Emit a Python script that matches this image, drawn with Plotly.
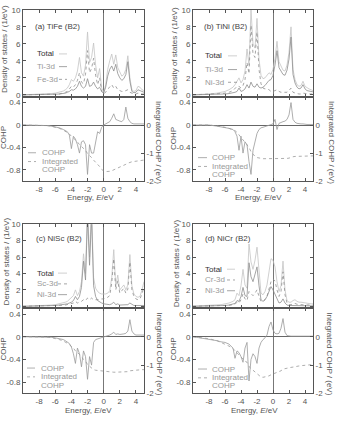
import plotly.graph_objects as go

W, H = 339, 421
def px(x): return x / W
def py(y): return 1 - y / H

# Energy grid (eV)
E = [-10, -9, -8, -7, -6.5, -6, -5.5, -5,
     -4.75, -4.5, -4.25, -4, -3.75, -3.5, -3.25, -3,
     -2.75, -2.5, -2.25, -2, -1.75, -1.5, -1.25, -1,
     -0.75, -0.5, -0.25, 0, 0.25, 0.5, 0.75, 1,
     1.25, 1.5, 1.75, 2, 2.25, 2.5, 2.75, 3,
     3.25, 3.5, 3.75, 4, 4.25, 4.5, 4.75, 5]

# (a) TiFe
a_total = [0.0, 0.02, 0.05, 0.1, 0.15, 0.2, 0.3, 0.45,
           0.6, 0.8, 1.2, 1.8, 1.6, 2.0, 2.8, 4.4,
           2.6, 2.2, 3.5, 7.4, 3.8, 4.4, 6.1, 3.5,
           2.0, 3.1, 0.8, 0.3, 1.2, 3.0, 4.0, 4.8,
           3.6, 4.7, 3.2, 2.6, 2.2, 2.4, 3.0, 4.6,
           2.0, 0.6, 0.4, 0.5, 1.0, 0.9, 0.6, 0.5]
a_ti = [0.0, 0.0, 0.01, 0.03, 0.05, 0.07, 0.1, 0.15,
        0.2, 0.3, 0.4, 0.6, 0.55, 0.7, 1.0, 1.6,
        1.0, 0.8, 1.0, 1.9, 1.0, 1.1, 1.5, 1.0,
        0.7, 0.9, 0.4, 0.2, 0.9, 2.2, 3.0, 3.4,
        2.8, 3.6, 2.5, 2.0, 1.7, 1.9, 2.4, 3.9,
        1.6, 0.4, 0.25, 0.3, 0.6, 0.5, 0.35, 0.3]
a_fe = [0.0, 0.0, 0.01, 0.03, 0.05, 0.08, 0.1, 0.2,
        0.3, 0.4, 0.7, 1.0, 0.9, 1.2, 1.7, 2.6,
        1.5, 1.3, 2.4, 5.2, 2.6, 3.1, 4.3, 2.3,
        1.2, 2.0, 0.4, 0.1, 0.3, 0.7, 0.9, 1.2,
        0.8, 1.0, 0.6, 0.5, 0.4, 0.4, 0.5, 0.6,
        0.3, 0.15, 0.1, 0.1, 0.2, 0.2, 0.1, 0.1]
a_cohp = [0.0, 0.0, 0.0, -0.01, -0.02, -0.03, -0.05, -0.08,
          -0.1, -0.12, -0.18, -0.42, -0.2, -0.25, -0.35, -0.5,
          -0.3, -0.28, -0.35, -0.88, -0.35, -0.5, -0.5, -0.3,
          -0.12, -0.15, -0.04, 0.0, 0.02, 0.05, 0.06, 0.12,
          0.2, 0.1, 0.08, 0.07, 0.06, 0.1, 0.32, 0.12,
          0.06, 0.03, 0.02, 0.02, 0.03, 0.02, 0.02, 0.02]
a_icohp = [0.0, 0.0, 0.0, -0.02, -0.04, -0.07, -0.12, -0.18,
           -0.22, -0.27, -0.32, -0.4, -0.46, -0.52, -0.6, -0.7,
           -0.77, -0.83, -0.9, -1.02, -1.08, -1.16, -1.25, -1.32,
           -1.4, -1.48, -1.58, -1.64, -1.66, -1.66, -1.65, -1.63,
           -1.6, -1.56, -1.53, -1.5, -1.47, -1.45, -1.4, -1.36,
           -1.33, -1.31, -1.3, -1.29, -1.27, -1.26, -1.25, -1.25]

# (b) TiNi
b_total = [0.02, 0.05, 0.1, 0.2, 0.3, 0.4, 0.6, 0.9,
           1.2, 1.6, 2.0, 1.4, 1.8, 2.8, 5.4, 3.5,
           10.0, 6.0, 5.5, 9.0, 4.2, 2.3, 1.9, 2.0,
           2.3, 2.6, 2.4, 3.0, 4.3, 6.3, 3.9, 3.4,
           2.9, 2.8, 3.5, 5.0, 8.0, 3.0, 1.8, 1.2,
           1.0, 1.1, 1.6, 1.0, 0.8, 0.7, 0.6, 0.5]
b_ti = [0.0, 0.01, 0.02, 0.05, 0.08, 0.1, 0.15, 0.2,
        0.3, 0.4, 0.8, 0.4, 0.5, 0.7, 1.2, 0.8,
        1.5, 1.0, 0.9, 1.3, 0.9, 0.8, 0.9, 1.1,
        1.4, 1.7, 1.8, 2.3, 3.5, 5.2, 3.2, 2.8,
        2.4, 2.3, 2.9, 4.2, 6.8, 2.4, 1.4, 0.9,
        0.7, 0.8, 1.2, 0.7, 0.5, 0.45, 0.4, 0.35]
b_ni = [0.0, 0.02, 0.05, 0.1, 0.15, 0.2, 0.3, 0.5,
        0.7, 1.0, 1.0, 0.8, 1.1, 1.8, 3.8, 2.5,
        8.2, 4.8, 4.4, 7.4, 3.0, 1.3, 0.8, 0.7,
        0.7, 0.6, 0.4, 0.4, 0.5, 0.6, 0.4, 0.3,
        0.3, 0.3, 0.3, 0.5, 0.8, 0.3, 0.2, 0.15,
        0.1, 0.1, 0.2, 0.15, 0.1, 0.1, 0.1, 0.1]
b_cohp = [0.0, 0.0, 0.0, -0.02, -0.03, -0.04, -0.06, -0.08,
          -0.12, -0.2, -0.45, -0.2, -0.5, -0.3, -0.35, -0.65,
          -0.88, -0.45, -0.3, -0.15, -0.08, -0.05, -0.04, -0.03,
          -0.02, -0.01, 0.0, 0.02, 0.1, -0.08, 0.03, 0.05,
          0.06, 0.07, 0.1, 0.18, 0.4, 0.1, 0.05, 0.03,
          0.02, 0.02, 0.02, 0.01, 0.01, 0.01, 0.01, 0.01]
b_icohp = [0.0, 0.0, 0.0, -0.03, -0.05, -0.08, -0.12, -0.17,
           -0.2, -0.26, -0.35, -0.42, -0.5, -0.6, -0.68, -0.8,
           -0.95, -1.05, -1.12, -1.16, -1.18, -1.19, -1.2, -1.2,
           -1.2, -1.2, -1.2, -1.2, -1.2, -1.21, -1.21, -1.2,
           -1.2, -1.2, -1.19, -1.18, -1.15, -1.13, -1.12, -1.12,
           -1.12, -1.11, -1.11, -1.11, -1.1, -1.1, -1.1, -1.1]

# (c) NiSc
c_total = [0.0, 0.02, 0.05, 0.1, 0.15, 0.2, 0.3, 0.4,
           0.5, 0.6, 0.8, 1.0, 1.3, 2.0, 1.3, 1.8,
           3.0, 6.4, 4.0, 12.0, 6.0, 12.0, 3.5, 2.2,
           1.8, 1.6, 1.5, 1.5, 1.5, 1.6, 1.9, 3.5,
           6.9, 2.5, 3.8, 2.0, 2.3, 2.6, 2.0, 2.6,
           6.3, 2.5, 1.5, 1.2, 1.1, 1.2, 2.0, 3.0]
c_sc = [0.0, 0.01, 0.02, 0.04, 0.05, 0.07, 0.1, 0.13,
        0.15, 0.2, 0.25, 0.3, 0.4, 0.6, 0.4, 0.5,
        0.6, 0.8, 0.7, 1.0, 0.8, 1.0, 0.8, 0.8,
        0.8, 0.8, 0.9, 0.9, 1.0, 1.1, 1.3, 2.8,
        5.8, 2.0, 3.1, 1.6, 1.9, 2.2, 1.6, 2.1,
        5.4, 2.0, 1.2, 0.9, 0.8, 0.9, 1.5, 2.4]
c_ni = [0.0, 0.01, 0.03, 0.05, 0.08, 0.1, 0.15, 0.2,
        0.25, 0.3, 0.4, 0.5, 0.7, 1.2, 0.8, 1.2,
        2.3, 5.5, 3.2, 11.0, 5.0, 11.0, 2.5, 1.2,
        0.7, 0.5, 0.4, 0.3, 0.25, 0.2, 0.2, 0.3,
        0.5, 0.2, 0.3, 0.15, 0.15, 0.2, 0.15, 0.2,
        0.4, 0.2, 0.1, 0.1, 0.1, 0.1, 0.1, 0.1]
c_cohp = [0.0, 0.0, 0.0, 0.0, -0.01, -0.02, -0.03, -0.05,
          -0.07, -0.09, -0.12, -0.18, -0.3, -0.47, -0.2, -0.3,
          -0.53, -0.25, -0.35, -0.75, -0.35, -0.5, -0.1, -0.05,
          -0.04, -0.03, -0.02, -0.01, 0.01, 0.02, 0.03, 0.05,
          0.08, 0.04, 0.05, 0.04, 0.04, 0.05, 0.06, 0.1,
          0.3, 0.1, 0.05, 0.03, 0.03, 0.03, 0.03, 0.03]
c_icohp = [0.0, 0.0, 0.0, -0.01, -0.03, -0.06, -0.1, -0.15,
           -0.18, -0.23, -0.28, -0.33, -0.4, -0.5, -0.56, -0.62,
           -0.72, -0.8, -0.86, -0.98, -1.04, -1.12, -1.16, -1.18,
           -1.19, -1.2, -1.21, -1.22, -1.22, -1.23, -1.23, -1.24,
           -1.25, -1.25, -1.25, -1.25, -1.25, -1.25, -1.24, -1.23,
           -1.2, -1.19, -1.18, -1.18, -1.17, -1.17, -1.16, -1.16]

# (d) NiCr
d_total = [0.02, 0.05, 0.1, 0.15, 0.2, 0.3, 0.4, 0.6,
           0.8, 1.6, 1.3, 2.5, 4.5, 2.6, 2.2, 7.6,
           5.4, 4.5, 5.6, 7.2, 4.0, 1.6, 1.4, 1.8,
           2.6, 4.0, 5.8, 5.6, 4.8, 3.0, 1.8, 2.5,
           5.5, 2.0, 0.7, 0.5, 0.5, 0.7, 0.8, 0.6,
           0.5, 0.5, 0.45, 0.4, 0.4, 0.35, 0.3, 0.3]
d_cr = [0.0, 0.01, 0.03, 0.05, 0.07, 0.1, 0.12, 0.2,
        0.25, 0.5, 0.4, 0.8, 1.5, 0.9, 0.7, 1.8,
        1.5, 1.3, 1.6, 2.0, 1.2, 0.6, 0.6, 0.8,
        1.2, 2.0, 3.0, 3.3, 3.1, 2.0, 1.2, 1.8,
        4.2, 1.4, 0.4, 0.2, 0.2, 0.3, 0.35, 0.25,
        0.2, 0.2, 0.18, 0.17, 0.16, 0.15, 0.15, 0.15]
d_ni = [0.0, 0.01, 0.03, 0.05, 0.07, 0.1, 0.15, 0.25,
        0.35, 0.7, 0.6, 1.2, 2.3, 1.3, 1.2, 5.3,
        3.6, 3.0, 3.8, 4.8, 2.5, 0.8, 0.6, 0.8,
        1.2, 1.8, 2.4, 2.0, 1.4, 0.8, 0.4, 0.5,
        0.9, 0.4, 0.15, 0.1, 0.1, 0.1, 0.1, 0.08,
        0.07, 0.06, 0.06, 0.05, 0.05, 0.05, 0.05, 0.05]
d_cohp = [0.0, -0.02, -0.04, -0.07, -0.09, -0.1, -0.13, -0.2,
          -0.38, -0.25, -0.28, -0.35, -0.45, -0.2, -0.1, -0.78,
          -0.4, -0.3, -0.35, -0.47, -0.2, -0.1, -0.05, -0.02,
          0.03, 0.18, 0.26, 0.12, 0.06, 0.05, 0.06, 0.15,
          0.32, 0.08, 0.02, 0.01, 0.01, 0.01, 0.01, 0.01,
          0.01, 0.01, 0.01, 0.01, 0.01, 0.01, 0.01, 0.01]
d_icohp = [0.0, -0.03, -0.07, -0.14, -0.2, -0.26, -0.33, -0.42,
           -0.5, -0.56, -0.62, -0.7, -0.8, -0.86, -0.9, -1.05,
           -1.12, -1.18, -1.25, -1.33, -1.38, -1.42, -1.43, -1.42,
           -1.41, -1.38, -1.34, -1.31, -1.28, -1.26, -1.24, -1.2,
           -1.14, -1.12, -1.11, -1.1, -1.08, -1.07, -1.05, -1.04,
           -1.03, -1.02, -1.01, -1.0, -1.0, -0.99, -0.99, -0.98]

X_TICKS = [-8, -6, -4, -2, 0, 2, 4]
X_TICKTEXT = ["-8", "-6", "-4", "-2", "0", "2", "4"]
DOS_TICKS = [0, 2, 4, 6, 8, 10]
COHP_TICKS = [-0.8, -0.4, 0, 0.4]
COHP_TICKTEXT = ["-0.8", "-0.4", "0", "0.4"]
ICOHP_TICKS = [-2, -1, 0]
ICOHP_TICKTEXT = ["-2", "-1", "0"]

FONT = "Liberation Sans, Arial, sans-serif"
AX = "#555555"
TXT = "#555555"
C_TOTAL = "#c4c4c4"
C_EL = "#8e8e8e"
C_COHP = "#999999"
LW = 0.8

panels = [
    dict(tag="(a) TiFe (B2)", names=("Total", "Ti-3d", "Fe-3d"),
         dashes=("solid", "solid", "dot"), dos=(a_total, a_ti, a_fe),
         cohp=a_cohp, icohp=a_icohp, x0=23, x1=144, yt=6, ym=95, yb=181,
         tagxy=(33, 23), legx=35, legy=(51, 64, 77), samp=(59, 67),
         cl_samp=(28, 36), cl_x=40, cl_y=(152, 161, 169),
         xt=(90, 198), dosl=(4, 46), cohpl=(3, 137), icl=(158, 141)),
    dict(tag="(b) TiNi (B2)", names=("Total", "Ti-3d", "Ni-3d"),
         dashes=("solid", "solid", "dot"), dos=(b_total, b_ti, b_ni),
         cohp=b_cohp, icohp=b_icohp, x0=193, x1=313, yt=6, ym=95, yb=181,
         tagxy=(202, 23), legx=203, legy=(53, 67, 80), samp=(228, 237),
         cl_samp=(198, 207), cl_x=210, cl_y=(157, 166, 174),
         xt=(258, 198), dosl=(175, 48), cohpl=(173, 138), icl=(331, 141)),
    dict(tag="(c) NiSc (B2)", names=("Total", "Sc-3d", "Ni-3d"),
         dashes=("solid", "dot", "solid"), dos=(c_total, c_sc, c_ni),
         cohp=c_cohp, icohp=c_icohp, x0=23, x1=144, yt=225, ym=311, yb=398,
         tagxy=(34, 240), legx=35, legy=(275, 286, 297), samp=(58, 67),
         cl_samp=(27, 35), cl_x=39, cl_y=(372, 381, 390),
         xt=(88, 415), dosl=(6, 263), cohpl=(3, 353), icl=(160, 357)),
    dict(tag="(d) NiCr (B2)", names=("Total", "Cr-3d", "Ni-3d"),
         dashes=("solid", "dot", "solid"), dos=(d_total, d_cr, d_ni),
         cohp=d_cohp, icohp=d_icohp, x0=193, x1=313, yt=225, ym=311, yb=398,
         tagxy=(203, 240), legx=203, legy=(271, 282, 293), samp=(227, 235),
         cl_samp=(198, 207), cl_x=210, cl_y=(373, 382, 390),
         xt=(255, 415), dosl=(176, 265), cohpl=(173, 353), icl=(330, 357)),
]

fig = go.Figure()
layout = dict(width=W, height=H, margin=dict(l=0, r=0, t=0, b=0),
              paper_bgcolor="white", plot_bgcolor="white", showlegend=False,
              font=dict(family=FONT, size=8, color=TXT))
annotations = []
shapes = []

tickfont = dict(family=FONT, size=8, color=TXT)

def ann(x, y, text, color=TXT, angle=0, xanchor="left", size=8):
    annotations.append(dict(x=px(x), y=py(y), xref="paper", yref="paper", text=text,
                            showarrow=False, xanchor=xanchor, yanchor="middle",
                            textangle=angle, font=dict(family=FONT, size=size, color=color)))

for i, p in enumerate(panels):
    for arr in p["dos"] + (p["cohp"], p["icohp"]):
        assert len(arr) == len(E), (p["tag"], len(arr))
    xa1, xa2 = 2 * i + 1, 2 * i + 2
    ya1, ya2, ya3 = 3 * i + 1, 3 * i + 2, 3 * i + 3
    xn = lambda k: "x" if k == 1 else f"x{k}"
    yn = lambda k: "y" if k == 1 else f"y{k}"
    xkey = lambda k: "xaxis" if k == 1 else f"xaxis{k}"
    ykey = lambda k: "yaxis" if k == 1 else f"yaxis{k}"
    dom_x = [px(p["x0"]), px(p["x1"])]
    dom_dos = [py(p["ym"]), py(p["yt"])]
    dom_cohp = [py(p["yb"]), py(p["ym"])]

    common_x = dict(range=[-10, 5], domain=dom_x, showgrid=False, showline=True,
                    linecolor=AX, linewidth=1, mirror="ticks", ticks="inside",
                    ticklen=3, tickcolor=AX, tickvals=X_TICKS, ticktext=X_TICKTEXT,
                    zeroline=True, zerolinecolor="#777777", zerolinewidth=1,
                    tickfont=tickfont)
    layout[xkey(xa1)] = dict(common_x, anchor=yn(ya1), showticklabels=False)
    layout[xkey(xa2)] = dict(common_x, anchor=yn(ya2), showticklabels=True)
    layout[ykey(ya1)] = dict(range=[-0.25, 10], domain=dom_dos, anchor=xn(xa1),
                             showgrid=False, showline=True, linecolor=AX, linewidth=1,
                             mirror="ticks", ticks="inside", ticklen=3, tickcolor=AX,
                             tickvals=DOS_TICKS, zeroline=False, tickfont=tickfont)
    layout[ykey(ya2)] = dict(range=[-1, 0.5], domain=dom_cohp, anchor=xn(xa2),
                             showgrid=False, showline=True, linecolor=AX, linewidth=1,
                             ticks="inside", ticklen=3, tickcolor=AX,
                             tickvals=COHP_TICKS, ticktext=COHP_TICKTEXT,
                             zeroline=True, zerolinecolor="#666666", zerolinewidth=1,
                             tickfont=tickfont)
    layout[ykey(ya3)] = dict(range=[-2, 1], overlaying=yn(ya2), side="right",
                             anchor=xn(xa2), showgrid=False, showline=True,
                             linecolor=AX, linewidth=1, ticks="inside", ticklen=3,
                             tickcolor=AX, tickvals=ICOHP_TICKS, ticktext=ICOHP_TICKTEXT,
                             zeroline=False, tickfont=tickfont)

    colors = (C_TOTAL, C_EL, C_EL)
    for vals, nm, dash, col in zip(p["dos"], p["names"], p["dashes"], colors):
        fig.add_trace(go.Scatter(x=E, y=vals, mode="lines", name=nm,
                                 line=dict(color=col, width=LW, dash=dash),
                                 xaxis=xn(xa1), yaxis=yn(ya1)))
    fig.add_trace(go.Scatter(x=E, y=p["cohp"], mode="lines", name="COHP",
                             line=dict(color=C_COHP, width=LW),
                             xaxis=xn(xa2), yaxis=yn(ya2)))
    fig.add_trace(go.Scatter(x=E, y=p["icohp"], mode="lines", name="Integrated COHP",
                             line=dict(color=C_COHP, width=LW, dash="dot"),
                             xaxis=xn(xa2), yaxis=yn(ya3)))

    # texts
    ann(p["tagxy"][0], p["tagxy"][1], p["tag"], color="#444444")
    for k, (nm, dash, col, yy) in enumerate(zip(p["names"], p["dashes"], colors, p["legy"])):
        ann(p["legx"], yy, nm, color="#333333" if k == 0 else "#999999")
        shapes.append(dict(type="line", xref="paper", yref="paper",
                           x0=px(p["samp"][0]), x1=px(p["samp"][1]), y0=py(yy), y1=py(yy),
                           line=dict(color=col, width=LW, dash=dash)))
    cl = p["cl_y"]
    shapes.append(dict(type="line", xref="paper", yref="paper",
                       x0=px(p["cl_samp"][0]), x1=px(p["cl_samp"][1]), y0=py(cl[0]), y1=py(cl[0]),
                       line=dict(color=C_COHP, width=LW)))
    shapes.append(dict(type="line", xref="paper", yref="paper",
                       x0=px(p["cl_samp"][0]), x1=px(p["cl_samp"][1]), y0=py(cl[1]), y1=py(cl[1]),
                       line=dict(color=C_COHP, width=LW, dash="dot")))
    ann(p["cl_x"], cl[0], "COHP", color="#999999")
    ann(p["cl_x"], cl[1], "Integrated", color="#999999")
    ann(p["cl_x"], cl[2], "COHP", color="#999999")

    ann(p["xt"][0], p["xt"][1], "Energy, <i>E</i>/eV", xanchor="center")
    ann(p["dosl"][0], p["dosl"][1], "Density of states / (1/eV)", angle=-90, xanchor="center")
    ann(p["cohpl"][0], p["cohpl"][1], "COHP", angle=-90, xanchor="center")
    ann(p["icl"][0], p["icl"][1], "Integrated COHP / (eV)", angle=90, xanchor="center")

layout["annotations"] = annotations
layout["shapes"] = shapes
fig.update_layout(**layout)
fig.write_html("out.html")
